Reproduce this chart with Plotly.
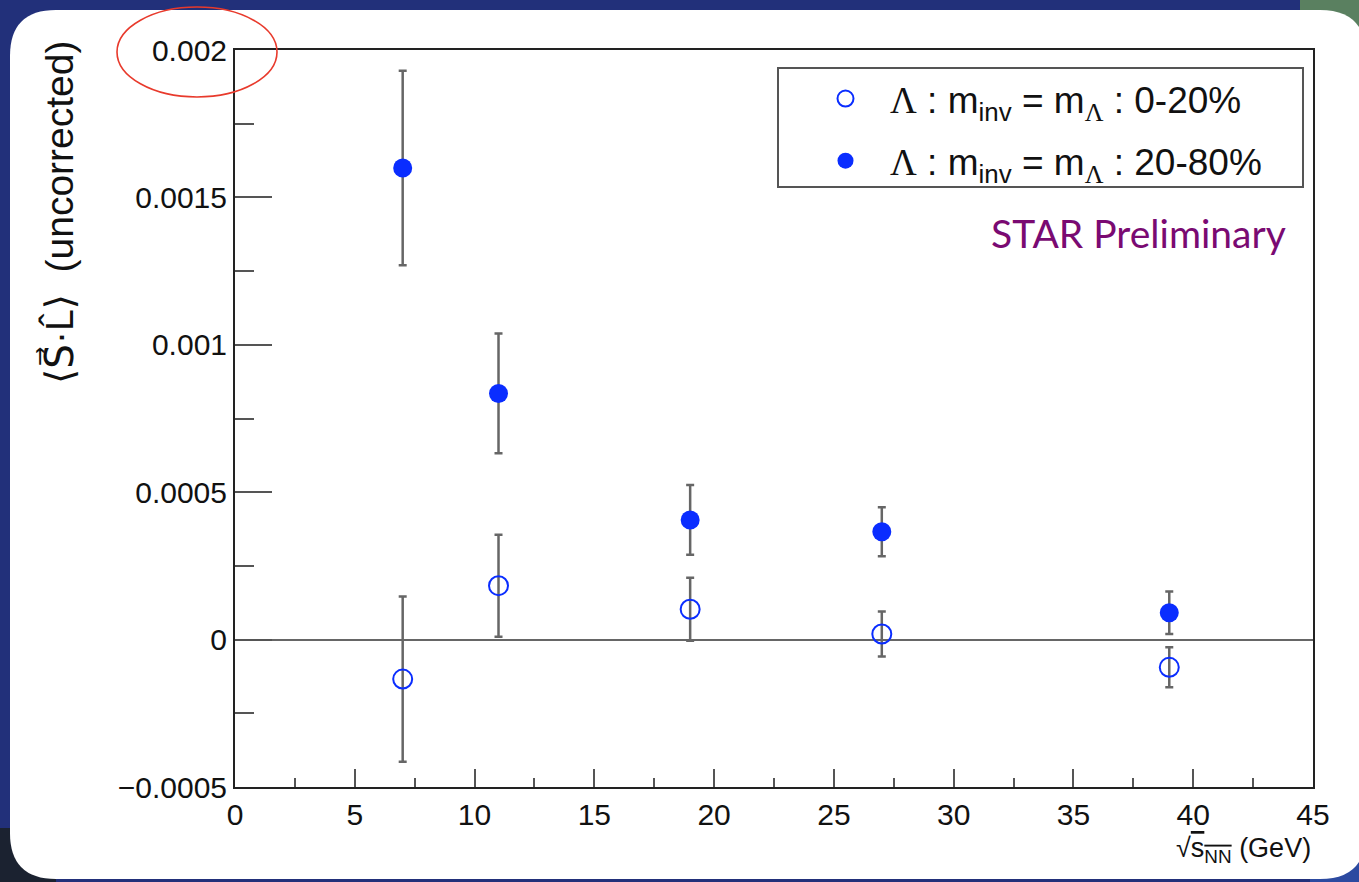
import plotly.graph_objects as go

# Beam energies (GeV) and spin-angular-momentum correlation values
energy = [7, 11, 19, 27, 39]

central_val = [-0.000134, 0.000183, 0.000103, 0.000019, -0.000094]
central_err = [0.000280, 0.000173, 0.000107, 0.000076, 0.000068]

peripheral_val = [0.001600, 0.000835, 0.000406, 0.000366, 0.000091]
peripheral_err = [0.000330, 0.000203, 0.000118, 0.000083, 0.000072]

y_tickvals = [-0.0005, 0, 0.0005, 0.001, 0.0015, 0.002]
y_ticktext = ["\u22120.0005", "0", "0.0005", "0.001", "0.0015", "0.002"]
x_tickvals = [0, 5, 10, 15, 20, 25, 30, 35, 40, 45]
x_ticktext = ["0", "5", "10", "15", "20", "25", "30", "35", "40", "45"]

W, H = 1359, 882
ML, MR, MT, MB = 235, 46, 50, 95
PW, PH = W - ML - MR, H - MT - MB


def px(x):
    return (x - ML) / PW


def py(y):
    return (H - MB - y) / PH


BLUE = "#0a2dff"
ERR = "#666666"
SANS = "Liberation Sans, Arial, DejaVu Sans, sans-serif"

fig = go.Figure()

lam = "<span style='font-family:Liberation Serif'>\u039b</span>"

fig.add_trace(go.Scatter(
    x=energy, y=central_val, mode="markers",
    name=f"{lam} : m<sub>inv</sub> = m<sub>{lam}</sub> : 0-20%",
    legendgroup="central",
    marker=dict(symbol="circle-open", size=19, color=BLUE, line=dict(width=2, color=BLUE)),
    error_y=dict(type="data", array=central_err, visible=True,
                 color=ERR, thickness=2.5, width=4),
))
fig.add_trace(go.Scatter(
    x=energy, y=peripheral_val, mode="markers",
    name=f"{lam} : m<sub>inv</sub> = m<sub>{lam}</sub> : 20-80%",
    legendgroup="peripheral",
    marker=dict(symbol="circle", size=19, color=BLUE),
    error_y=dict(type="data", array=peripheral_err, visible=True,
                 color=ERR, thickness=2.5, width=4),
))

# Rounded white panel behind the plot
x0, x1, y0, y1, r = 10, 1366, 10, 879, 46


def rounded_path():
    pts = [
        ("M", [(x0 + r, y0)]),
        ("L", [(x1 - r, y0)]),
        ("Q", [(x1, y0), (x1, y0 + r)]),
        ("L", [(x1, y1 - r)]),
        ("Q", [(x1, y1), (x1 - r, y1)]),
        ("L", [(x0 + r, y1)]),
        ("Q", [(x0, y1), (x0, y1 - r)]),
        ("L", [(x0, y0 + r)]),
        ("Q", [(x0, y0), (x0 + r, y0)]),
    ]
    s = ""
    for cmd, coords in pts:
        s += cmd + " " + " ".join(f"{px(a):.5f},{py(b):.5f}" for a, b in coords) + " "
    return s + "Z"


def rect_px(xa, xb, ya, yb, color):
    return dict(type="rect", xref="paper", yref="paper",
                x0=px(xa), x1=px(xb), y0=py(yb), y1=py(ya),
                fillcolor=color, line=dict(width=0), layer="below")


shapes = [
    # tinted corners of the backdrop
    rect_px(1300, 1359, 0, 50, "#5a8060"),
    rect_px(0, 56, 828, 882, "#1b2230"),
    rect_px(1310, 1359, 836, 882, "#2c4aa0"),
    dict(type="path", xref="paper", yref="paper", path=rounded_path(),
         fillcolor="white", line=dict(width=0), layer="below"),
    # legend frame
    dict(type="rect", xref="paper", yref="paper",
         x0=px(778), x1=px(1303), y0=py(187), y1=py(68),
         fillcolor="white", line=dict(color="#555", width=2), layer="below"),
    dict(type="circle", xref="paper", yref="paper",
         x0=px(117), x1=px(277), y0=py(97), y1=py(7),
         line=dict(color="#e83a2c", width=1.6), layer="above"),
]

annotations = [
    dict(xref="paper", yref="paper", x=px(58), y=py(213),
         text="\u27e8S\u20d7\u00b7L\u0302\u27e9  (uncorrected)",
         textangle=-90, showarrow=False, xanchor="center", yanchor="middle",
         font=dict(family=SANS, size=39, color="#111")),
    dict(xref="paper", yref="paper", x=1.0, y=py(850),
         text="\u221a<span style='text-decoration:overline'>s<sub>NN</sub></span> (GeV)",
         showarrow=False, xanchor="right", yanchor="middle",
         font=dict(family=SANS, size=27, color="#111")),
    dict(xref="paper", yref="paper", x=px(1288), y=py(233),
         text="STAR Preliminary", showarrow=False, xanchor="right", yanchor="middle",
         font=dict(family="Lato, Open Sans, sans-serif", size=39, color="#7a0a72")),
]

fig.update_layout(
    width=W, height=H,
    margin=dict(l=ML, r=MR, t=MT, b=MB),
    paper_bgcolor="#22307a",
    plot_bgcolor="rgba(0,0,0,0)",
    shapes=shapes,
    annotations=annotations,
    showlegend=True,
    legend=dict(
        x=px(778), y=py(68), xanchor="left", yanchor="top",
        bgcolor="rgba(0,0,0,0)", borderwidth=0,
        font=dict(family=SANS, size=37, color="#111"),
        indentation=23, itemwidth=79, tracegroupgap=11,
    ),
    xaxis=dict(
        range=[0, 45], tickvals=x_tickvals, ticktext=x_ticktext,
        showgrid=False, zeroline=False,
        showline=True, mirror=True, linecolor="#222", linewidth=2,
        ticks="inside", ticklen=18, tickwidth=2, tickcolor="#555",
        minor=dict(dtick=2.5, tick0=0, ticks="inside", ticklen=9, tickwidth=2, tickcolor="#555"),
        tickfont=dict(family=SANS, size=30, color="#111"),
    ),
    yaxis=dict(
        range=[-0.0005, 0.002], tickvals=y_tickvals, ticktext=y_ticktext,
        showgrid=False, zeroline=True, zerolinecolor="#666", zerolinewidth=2,
        showline=True, mirror=True, linecolor="#222", linewidth=2,
        ticks="inside", ticklen=37, tickwidth=2, tickcolor="#555",
        minor=dict(dtick=0.00025, tick0=0, ticks="inside", ticklen=19, tickwidth=2, tickcolor="#555"),
        tickfont=dict(family=SANS, size=30, color="#111"),
    ),
)

fig.write_html("out.html")
